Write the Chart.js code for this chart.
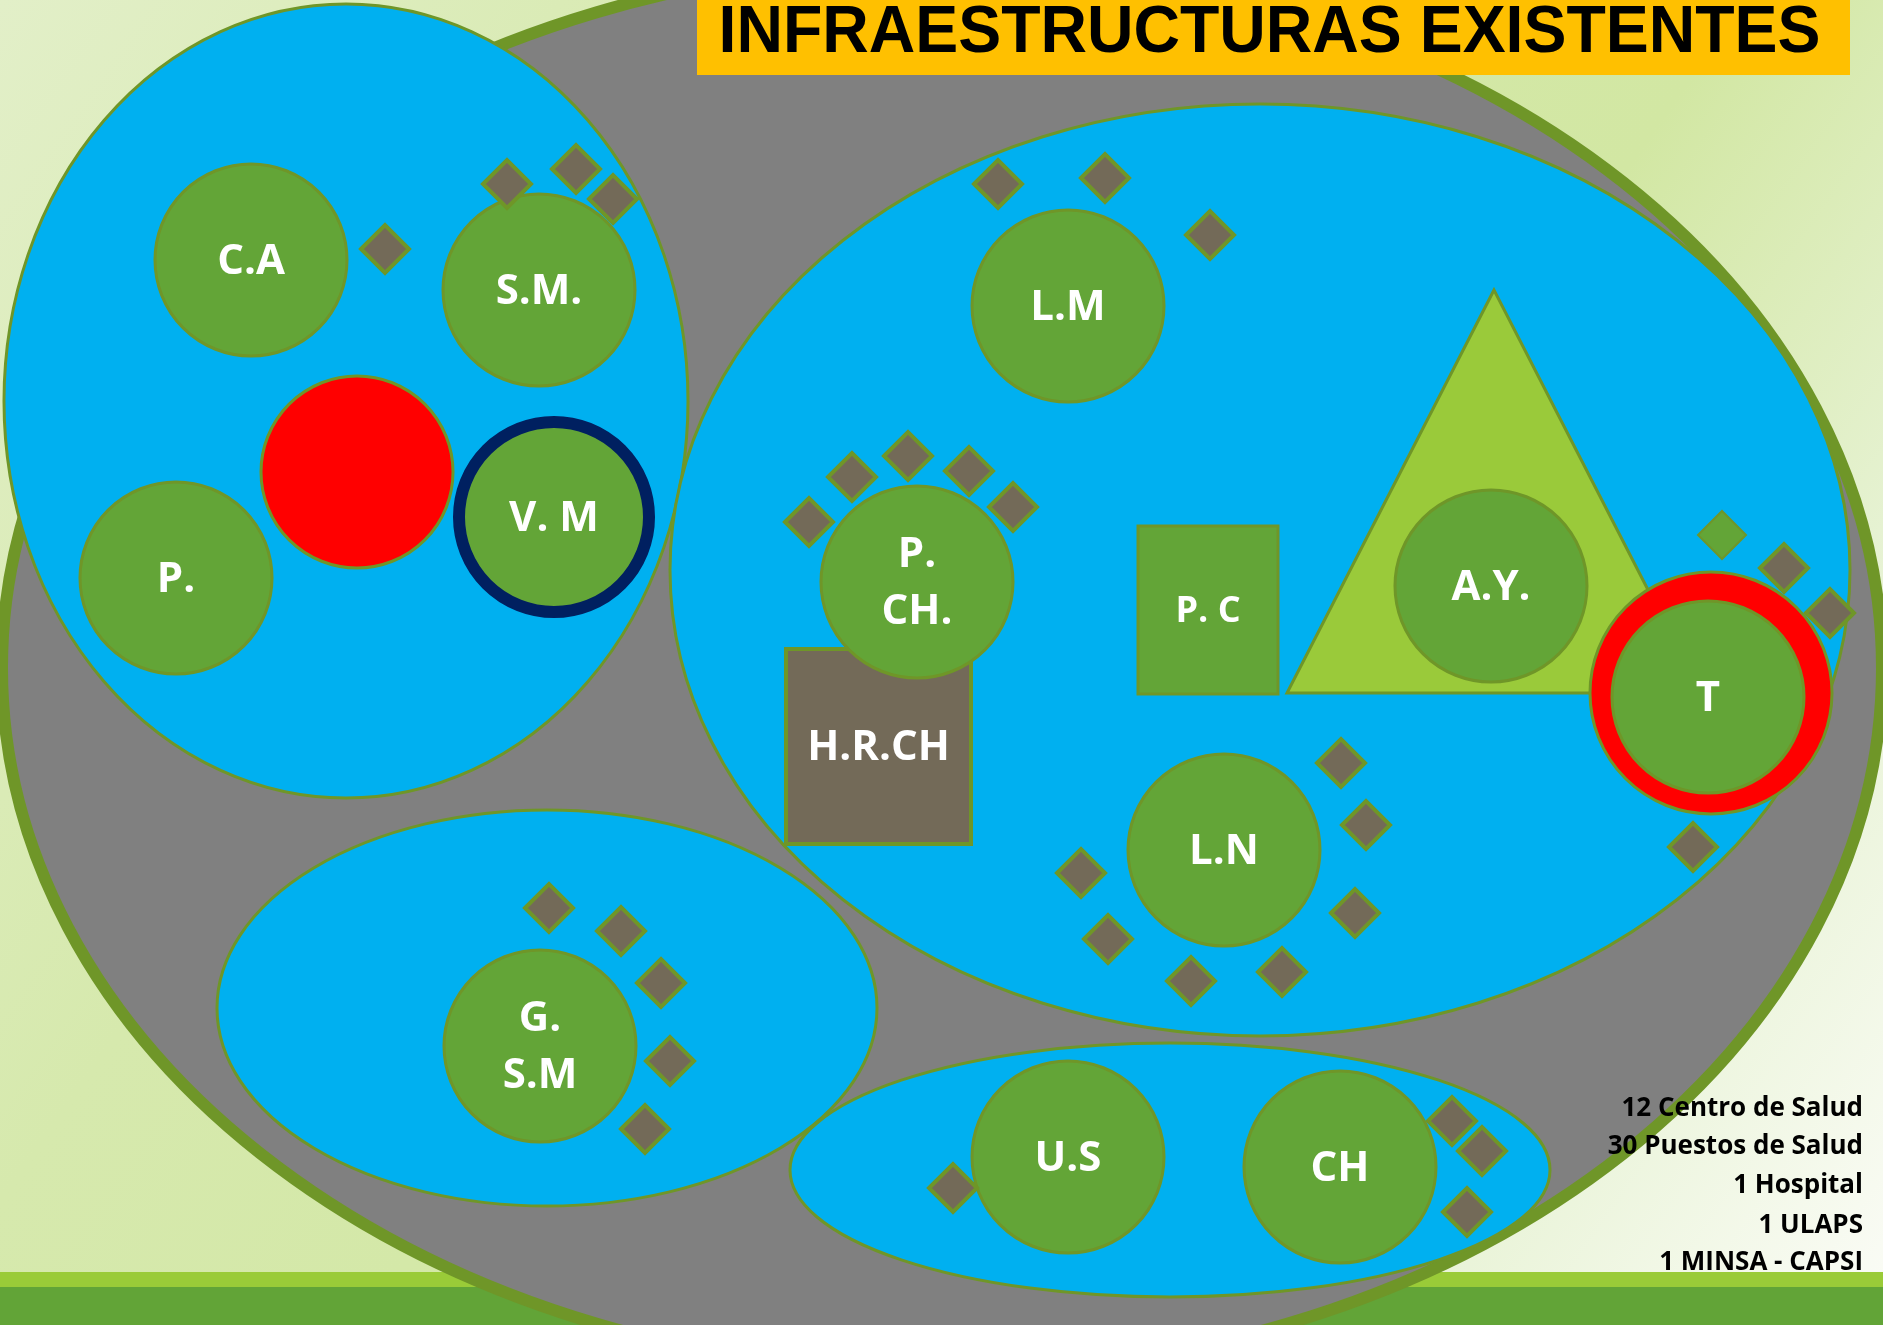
<!DOCTYPE html>
<html lang="es">
<head>
<meta charset="UTF-8">
<title>Infraestructuras existentes</title>
<script src="https://cdn.jsdelivr.net/npm/chart.js"></script>
<style>
    html, body {
        margin: 0;
        padding: 0;
        overflow: hidden;
        background-color: #e2efc8;
    }
    #wrap {
        width: 1883px;
        height: 1325px;
        position: relative;
    }
</style>
</head>
<body>
<div id="wrap"><canvas id="mapa"></canvas></div>
<script>
    const W = 1883, H = 1325;

    // zonas (elipses): centro y radios, en unidades del plano
    const zoneX  = [942, 346, 1260, 547, 1170];
    const zoneY  = [668, 401, 570, 1008, 1170];
    const zoneRx = [940, 342, 590, 330, 380];
    const zoneRy = [705, 397, 466, 198, 127];

    // centros de salud (circulos verdes)
    const centroNames = ['C.A', 'S.M.', 'V. M', 'P.', 'L.M', 'P.|CH.', 'A.Y.', 'T', 'L.N', 'G.|S.M', 'U.S', 'CH'];
    const centroX = [251, 539, 554, 176, 1068, 917, 1491, 1708, 1224, 540, 1068, 1340];
    const centroY = [260, 290, 517, 578, 306, 582, 586, 697, 850, 1046, 1157, 1167];
    const centroR = [96, 96, 95, 96, 96, 96, 96, 96, 96, 96, 96, 96];

    // circulos rojos
    const rojoX = [357, 1711];
    const rojoY = [472, 693];
    const rojoR = [96, 121];

    // puestos de salud (rombos)
    const puestoX = [385, 507, 576, 613, 998, 1105, 1210, 809, 852, 908, 969, 1013, 1784, 1830, 1693,
                     1341, 1366, 1355, 1282, 1191, 1108, 1081, 549, 621, 661, 670, 645, 953, 1452, 1482, 1467];
    const puestoY = [249, 184, 169, 199, 184, 178, 235, 522, 477, 456, 471, 507, 568, 613, 847,
                     763, 825, 913, 972, 981, 939, 873, 908, 931, 983, 1061, 1129, 1188, 1121, 1151, 1212];
    const verdeX = [1722];
    const verdeY = [535];

    // rectangulos: hospital y P. C
    const rectNames = ['H.R.CH', 'P. C'];
    const rectX0 = [786, 1138];
    const rectY0 = [649, 526];
    const rectX1 = [971, 1278];
    const rectY1 = [844, 694];

    // triangulo
    const triX = [1494, 1287, 1701];
    const triY = [290, 693, 693];

    // franjas del fondo
    const bandTop = [1272, 1287];
    const bandBottom = [1287, 1325];

    const titleText = 'INFRAESTRUCTURAS EXISTENTES';
    const titleBox = [697, 0, 1850, 75];
    const summaryLines = ['12 Centro de Salud', '30 Puestos de Salud', '1 Hospital', '1 ULAPS', '1 MINSA - CAPSI'];
    const summaryY = [1116, 1154, 1193, 1233, 1270];

    const OLIVE = '#6f9628';
    const GREEN = '#63a537';
    const BLUE = '#00b0f0';
    const BROWN = '#736a58';

    function sx(chart, v) { return chart.scales.x.getPixelForValue(v); }
    function sy(chart, v) { return chart.scales.y.getPixelForValue(v); }

    const mapaPlugin = {
        id: 'mapa',
        beforeDraw(chart) {
            const c = chart.ctx;
            c.save();
            const g = c.createLinearGradient(0, 0, chart.width, chart.height);
            g.addColorStop(0, '#e2efc8');
            g.addColorStop(0.3, '#d6e9ad');
            g.addColorStop(0.62, '#d2e7a3');
            g.addColorStop(0.8, '#e6f2d2');
            g.addColorStop(1, '#fbfcf7');
            c.fillStyle = g;
            c.fillRect(0, 0, chart.width, chart.height);
            const bandColors = ['#9acb38', '#62a437'];
            bandTop.forEach((t, i) => {
                c.fillStyle = bandColors[i];
                c.fillRect(sx(chart, 0), sy(chart, t), sx(chart, W) - sx(chart, 0), sy(chart, bandBottom[i]) - sy(chart, t));
            });
            c.restore();
        },
        beforeDatasetsDraw(chart) {
            const c = chart.ctx;
            c.save();
            zoneX.forEach((x, i) => {
                const cx = sx(chart, x), cy = sy(chart, zoneY[i]);
                const rx = Math.abs(sx(chart, x + zoneRx[i]) - cx);
                const ry = Math.abs(sy(chart, zoneY[i] + zoneRy[i]) - cy);
                c.beginPath();
                c.ellipse(cx, cy, rx, ry, 0, 0, Math.PI * 2);
                c.fillStyle = i === 0 ? '#808080' : BLUE;
                c.fill();
                c.lineWidth = i === 0 ? 12 : 3;
                c.strokeStyle = OLIVE;
                c.stroke();
            });

            // triangulo
            c.beginPath();
            triX.forEach((x, i) => {
                if (i === 0) c.moveTo(sx(chart, x), sy(chart, triY[i]));
                else c.lineTo(sx(chart, x), sy(chart, triY[i]));
            });
            c.closePath();
            c.fillStyle = '#9aca3a';
            c.fill();
            c.lineWidth = 3;
            c.strokeStyle = OLIVE;
            c.stroke();

            // rectangulos
            rectNames.forEach((n, i) => {
                const x0 = sx(chart, rectX0[i]), y0 = sy(chart, rectY0[i]);
                const x1 = sx(chart, rectX1[i]), y1 = sy(chart, rectY1[i]);
                c.fillStyle = i === 0 ? BROWN : GREEN;
                c.fillRect(x0, y0, x1 - x0, y1 - y0);
                c.lineWidth = i === 0 ? 4 : 3;
                c.strokeStyle = OLIVE;
                c.strokeRect(x0, y0, x1 - x0, y1 - y0);
            });
            c.restore();
        },
        afterDatasetsDraw(chart) {
            const c = chart.ctx;
            c.save();
            c.fillStyle = '#ffffff';
            c.textAlign = 'center';
            c.textBaseline = 'middle';
            c.font = 'bold 42px "Open Sans"';
            centroNames.forEach((name, i) => {
                const lines = name.split('|');
                const cx = sx(chart, centroX[i]), cy = sy(chart, centroY[i]);
                lines.forEach((ln, j) => {
                    c.fillText(ln, cx, cy + 2 + (j - (lines.length - 1) / 2) * 57);
                });
            });
            rectNames.forEach((name, i) => {
                const cx = sx(chart, (rectX0[i] + rectX1[i]) / 2);
                const cy = sy(chart, (rectY0[i] + rectY1[i]) / 2);
                c.font = i === 0 ? 'bold 42px "Open Sans"' : 'bold 36px "Open Sans"';
                c.fillText(name, cx, cy + 2);
            });

            // titulo
            const bx0 = sx(chart, titleBox[0]), by0 = sy(chart, titleBox[1]);
            const bx1 = sx(chart, titleBox[2]), by1 = sy(chart, titleBox[3]);
            c.fillStyle = '#ffc000';
            c.fillRect(bx0, by0, bx1 - bx0, by1 - by0);
            c.fillStyle = '#000000';
            c.textBaseline = 'alphabetic';
            c.font = 'bold 66px "Liberation Sans", Arial, sans-serif';
            c.fillText(titleText, (bx0 + bx1) / 2 - 4, sy(chart, 52), 1102);

            // resumen
            c.textAlign = 'right';
            c.font = 'bold 26px "Open Sans"';
            summaryLines.forEach((t, i) => {
                c.fillText(t, sx(chart, 1863), sy(chart, summaryY[i]));
            });
            c.restore();
        }
    };

    const ctx = document.getElementById('mapa').getContext('2d');
    const mapa = new Chart(ctx, {
        type: 'bubble',
        data: {
            datasets: [
                {
                    label: 'Puestos de Salud',
                    order: 0,
                    data: puestoX.map((x, i) => ({ x: x, y: puestoY[i], r: 24 })),
                    pointStyle: 'rectRot',
                    backgroundColor: BROWN,
                    borderColor: OLIVE,
                    borderWidth: 4
                },
                {
                    label: 'ULAPS',
                    order: 0,
                    data: verdeX.map((x, i) => ({ x: x, y: verdeY[i], r: 24 })),
                    pointStyle: 'rectRot',
                    backgroundColor: GREEN,
                    borderColor: OLIVE,
                    borderWidth: 2
                },
                {
                    label: 'Centros de Salud',
                    order: 1,
                    data: centroX.map((x, i) => ({ x: x, y: centroY[i], r: centroR[i] })),
                    backgroundColor: GREEN,
                    borderColor: c => centroNames[c.dataIndex] === 'V. M' ? '#002060' : OLIVE,
                    borderWidth: c => centroNames[c.dataIndex] === 'V. M' ? 12 : 3
                },
                {
                    label: 'Rojo',
                    order: 2,
                    data: rojoX.map((x, i) => ({ x: x, y: rojoY[i], r: rojoR[i] })),
                    backgroundColor: '#ff0000',
                    borderColor: OLIVE,
                    borderWidth: 3
                }
            ]
        },
        options: {
            responsive: true,
            maintainAspectRatio: false,
            animation: false,
            events: [],
            layout: { padding: 0, autoPadding: false },
            scales: {
                x: { type: 'linear', min: 0, max: W, display: false },
                y: { type: 'linear', min: 0, max: H, reverse: true, display: false }
            },
            plugins: {
                legend: { display: false },
                tooltip: { enabled: false }
            }
        },
        plugins: [mapaPlugin]
    });
</script>
</body>
</html>
